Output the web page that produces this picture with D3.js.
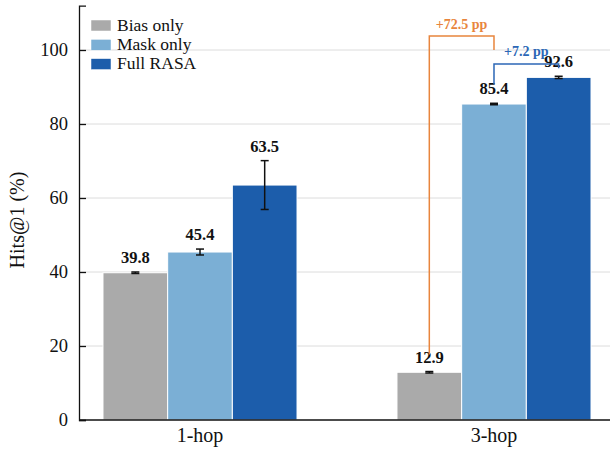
<!DOCTYPE html>
<html><head><meta charset="utf-8">
<script src="https://cdn.jsdelivr.net/npm/d3@7"></script>
<style>html,body{margin:0;padding:0;background:#fff;}svg{display:block;}</style>
</head><body>
<svg id="chart" width="610" height="449"></svg>
<script>
const groups = ["1-hop", "3-hop"];
const seriesNames = ["Bias only", "Mask only", "Full RASA"];
const biasOnly = [39.8, 12.9];
const maskOnly = [45.4, 85.4];
const fullRasa = [63.5, 92.6];
const biasErr = [0.2, 0.2];
const maskErr = [0.8, 0.2];
const rasaErr = [6.6, 0.3];
const yTicks = [0, 20, 40, 60, 80, 100];
const annotLabels = ["+72.5 pp", "+7.2 pp"];

const colors = ["#aaaaaa", "#7bafd5", "#1c5dab"];
const annotColors = ["#e8853d", "#2c67b6"];
const values = [biasOnly, maskOnly, fullRasa];
const errs = [biasErr, maskErr, rasaErr];

const svg = d3.select("#chart");
const font = "'Liberation Serif','Times New Roman',serif";
const y = d3.scaleLinear().domain([0, 112]).range([420, 5.6]);
const x = d3.scaleLinear().domain([-0.4116, 1.3946]).range([79, 610]);
const barW = 0.22;
const offs = [-0.22, 0, 0.22];

// grid
svg.append("g").selectAll("line").data(yTicks.filter(d => d > 0)).join("line")
  .attr("x1", 79).attr("x2", 610)
  .attr("y1", d => y(d)).attr("y2", d => y(d))
  .attr("stroke", "#dcdcdc").attr("stroke-width", 1);

// bars
const bars = [];
groups.forEach((g, gi) => seriesNames.forEach((s, si) => {
  bars.push({gi, si, v: values[si][gi], e: errs[si][gi]});
}));
function gi2c(d) { return d.gi + offs[d.si]; }
svg.append("g").selectAll("rect").data(bars).join("rect")
  .attr("x", d => x(gi2c(d) - barW / 2))
  .attr("width", d => x(gi2c(d) + barW / 2) - x(gi2c(d) - barW / 2))
  .attr("y", d => y(d.v))
  .attr("height", d => y(0) - y(d.v))
  .attr("fill", d => colors[d.si])
  .attr("stroke", "#ffffff").attr("stroke-width", 1);

// error bars
const eb = svg.append("g").attr("stroke", "#111").attr("stroke-width", 1.5);
bars.forEach(d => {
  const cx = x(gi2c(d));
  eb.append("line").attr("x1", cx).attr("x2", cx).attr("y1", y(d.v - d.e)).attr("y2", y(d.v + d.e));
  eb.append("line").attr("x1", cx - 4).attr("x2", cx + 4).attr("y1", y(d.v - d.e)).attr("y2", y(d.v - d.e));
  eb.append("line").attr("x1", cx - 4).attr("x2", cx + 4).attr("y1", y(d.v + d.e)).attr("y2", y(d.v + d.e));
});

// value labels
svg.append("g").selectAll("text").data(bars).join("text")
  .attr("x", d => x(gi2c(d)))
  .attr("y", d => y(d.v + d.e) - 9)
  .attr("text-anchor", "middle")
  .attr("font-family", font).attr("font-weight", "bold").attr("font-size", 16.5)
  .attr("fill", "#111")
  .text(d => d.v.toFixed(1));

// annotation brackets (3-hop group)
function bracket(x1, x2, yTop, yL, yR, color, label, dy) {
  svg.append("path")
    .attr("d", `M${x1},${yL}V${yTop}H${x2}V${yR}`)
    .attr("fill", "none").attr("stroke", color).attr("stroke-width", 1.5);
  svg.append("text").attr("x", (x1 + x2) / 2).attr("y", yTop - dy)
    .attr("text-anchor", "middle")
    .attr("font-family", font).attr("font-weight", "bold").attr("font-size", 14)
    .attr("fill", color).text(label);
}
const gi = 1;
bracket(x(gi + offs[0]), x(gi + offs[1]), y(103.8), y(biasOnly[gi] + biasErr[gi]) - 17, y(100), annotColors[0], annotLabels[0], 6.5);
bracket(x(gi + offs[1]), x(gi + offs[2]), y(96.2), y(maskOnly[gi] + maskErr[gi]) - 19, y(95.1), annotColors[1], annotLabels[1], 8);

// axes
const yAxis = svg.append("g").attr("transform", "translate(79,0)")
  .call(d3.axisLeft(y).tickValues(yTicks).tickSize(-7).tickPadding(11).tickFormat(d3.format("d")));
yAxis.select(".domain").attr("stroke", "#111").attr("stroke-width", 1.3);
yAxis.selectAll(".tick line").attr("stroke", "#111").attr("stroke-width", 1.3);
yAxis.selectAll("text").attr("font-family", font).attr("font-size", 18.5).attr("fill", "#111");

svg.append("line").attr("x1", 79).attr("x2", 610).attr("y1", y(0)).attr("y2", y(0))
  .attr("stroke", "#111").attr("stroke-width", 1.5);

svg.append("g").selectAll("text").data(groups).join("text")
  .attr("x", (d, i) => x(i)).attr("y", 442)
  .attr("text-anchor", "middle")
  .attr("font-family", font).attr("font-size", 20).attr("fill", "#111")
  .text(d => d);

svg.append("text")
  .attr("transform", "translate(24,220) rotate(-90)")
  .attr("text-anchor", "middle")
  .attr("font-family", font).attr("font-size", 20).attr("fill", "#111")
  .text("Hits@1 (%)");

// legend
const lg = svg.append("g");
seriesNames.forEach((s, i) => {
  lg.append("rect").attr("x", 91).attr("y", 20 + i * 19.3).attr("width", 20).attr("height", 11)
    .attr("fill", colors[i]).attr("stroke", "#fff").attr("stroke-width", 0.5);
  lg.append("text").attr("x", 117).attr("y", 30.5 + i * 19.3)
    .attr("font-family", font).attr("font-size", 17.5).attr("fill", "#111").text(s);
});
</script>
</body></html>
